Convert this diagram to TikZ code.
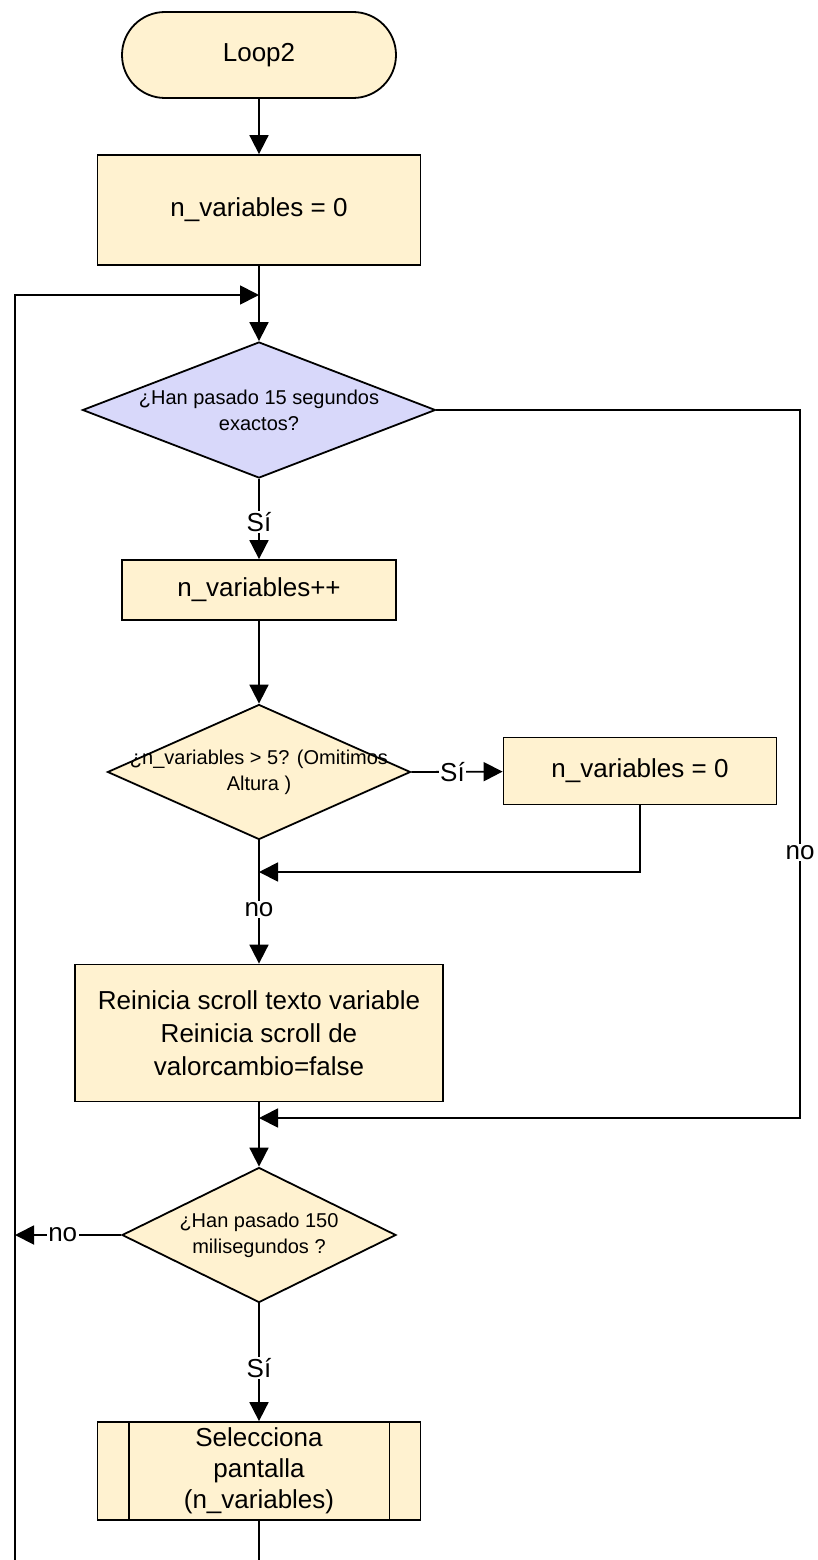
\documentclass[tikz,border=0pt]{standalone}
\usepackage{fontspec}
\setmainfont{Liberation Sans}
\usetikzlibrary{shapes,shapes.misc,shapes.geometric}
\usetikzlibrary{arrows.meta}
\definecolor{cream}{HTML}{FFF2D0}
\definecolor{lilac}{HTML}{D8D8FA}

\begin{document}
\begin{tikzpicture}[x=1pt,y=1pt,line width=1.8pt,
  arr/.style={-{Triangle[length=19pt,width=19pt]}},
  proc/.style={draw,fill=cream,align=center,inner sep=0pt,font=\fontsize{26}{33}\selectfont},
  cond/.style={draw,diamond,inner sep=0pt,fill=cream},
  ctxt/.style={align=center,inner sep=0pt,font=\fontsize{20}{26}\selectfont},
  lbl/.style={fill=white,inner sep=1.5pt,font=\fontsize{26}{26}\selectfont}]
\useasboundingbox (0,0) rectangle (817,-1560);
% blocks
\node[proc,rounded rectangle,minimum width=274pt,minimum height=86pt] (loop) at (259,-55) {Loop2};
\node[proc,minimum width=323pt,minimum height=110pt] (init) at (259,-210) {n\_variables = 0};
\node[cond,fill=lilac,minimum width=353pt,minimum height=136pt] (dia1) at (259,-410) {};
\node[ctxt] (dia1t) at (dia1) {¿Han pasado 15 segundos\\exactos?};
\node[proc,minimum width=274pt,minimum height=60pt] (incr) at (259,-590) {n\_variables++};
\node[cond,minimum width=303pt,minimum height=135pt] (dia2) at (259,-772) {};
\node[ctxt] (dia2t) at (dia2) {¿n\_variables > 5? (Omitimos\\Altura )};
\node[proc,minimum width=273pt,minimum height=67pt] (reset) at (640,-771) {n\_variables = 0};
\node[proc,minimum width=368pt,minimum height=137pt] (scroll) at (259,-1033) {Reinicia scroll texto variable\\Reinicia scroll de\\valorcambio=false};
\node[cond,minimum width=274pt,minimum height=135pt] (dia3) at (259,-1235) {};
\node[ctxt] (dia3t) at (dia3) {¿Han pasado 150\\milisegundos ?};
\node[proc,minimum width=323pt,minimum height=98pt,font=\fontsize{26}{31}\selectfont] (sel) at (259,-1471) {Selecciona\\pantalla\\(n\_variables)};
\draw ([xshift=32pt]sel.north west) -- ([xshift=32pt]sel.south west);
\draw ([xshift=-32pt]sel.north east) -- ([xshift=-32pt]sel.south east);
% joints
\coordinate (j1) at (259,-295);
\coordinate (j2) at (259,-872);
\coordinate (j3) at (259,-1118);
\coordinate (r1) at (800,-410);
\coordinate (r2) at (800,-1118);
\coordinate (bl) at (15,-1560);
\coordinate (bc) at (259,-1560);
% connectors
\draw[arr] (loop) -- (init);
\draw[arr] (init) -- (dia1);
\draw[arr] (bl) |- (j1);
\draw[arr] (dia1) -- node[lbl,pos=0.54]{Sí} (incr);
\draw[arr] (dia1.east) -- (r1) -- node[lbl,pos=0.625]{no} (r2) -- (j3);
\draw[arr] (incr) -- (dia2);
\draw[arr] (dia2.east) -- node[lbl,pos=0.45]{Sí} (reset);
\draw[arr] (reset.south) |- (j2);
\draw[arr] (dia2) -- node[lbl,pos=0.56]{no} (scroll);
\draw[arr] (scroll) -- (dia3);
\draw[arr] (dia3.west) -- node[lbl,pos=0.55]{no} (dia3.west -| bl);
\draw[arr] (dia3) -- node[lbl,pos=0.55]{Sí} (sel);
\draw (sel) -- (bc);
\end{tikzpicture}
\end{document}
